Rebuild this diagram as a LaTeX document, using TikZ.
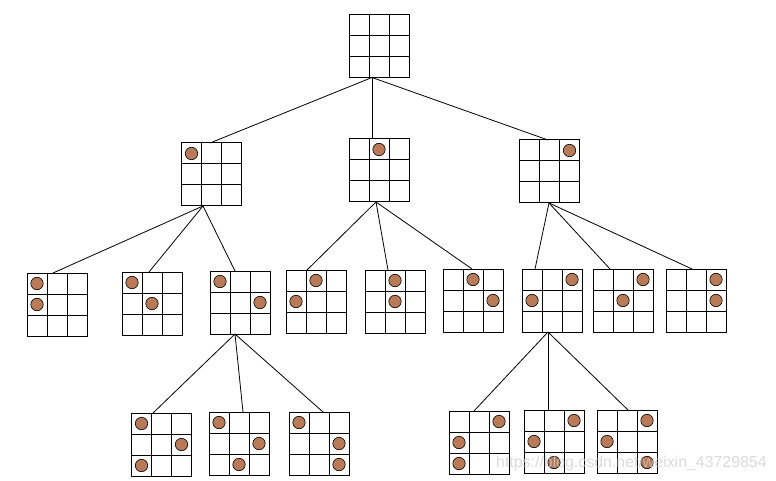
\documentclass[tikz,border=0pt]{standalone}
\usepackage{fontspec}
\newfontfamily\wmfont{Liberation Sans}
\usetikzlibrary{calc}
\definecolor{dotbrown}{RGB}{185,122,87}
\tikzset{
  board/.style={draw, line width=1pt, minimum width=60pt, minimum height=63pt, inner sep=0pt, outer sep=0pt},
  gridline/.style={line width=1pt},
  link/.style={line width=0.8pt},
  queen/.style={fill=dotbrown, draw=black, line width=0.6pt}
}
\newcommand\brdgrid[1]{%
  \foreach \i in {1,2} {
    \draw[gridline] ($(#1.north west)!\i/3!(#1.north east)$) -- ($(#1.south west)!\i/3!(#1.south east)$);
    \draw[gridline] ($(#1.north west)!\i/3!(#1.south west)$) -- ($(#1.north east)!\i/3!(#1.south east)$);
  }}
\newcommand\brd[4]{%
  \node[board] (#1) at (#2,#3) {};
  \brdgrid{#1}
  \foreach \r/\c in {#4} {
    \draw[queen] ([shift={(\c*20-10,\r*21-10.5)}]#1.north west) circle (6.2pt);
  }}
\begin{document}
\begin{tikzpicture}[x=1pt,y=-1pt]
\fill[white] (0,0) rectangle (776,481);
\useasboundingbox (0,0) rectangle (776,481);
% root
\node[board] (root) at (379.5,46) {};
\brdgrid{root}
% level 1
\brd{la}{211.5}{174.5}{1/1}
\brd{lb}{379}{170.5}{1/2}
\brd{lc}{549.5}{171.5}{1/3}
% level 2
\brd{a}{57}{304.5}{1/1,2/1}
\brd{b}{152}{303.5}{1/1,2/2}
\brd{c}{240}{302.5}{1/1,2/3}
\brd{d}{316}{301.5}{1/2,2/1}
\brd{e}{395}{301.5}{1/2,2/2}
\brd{f}{473}{300.5}{1/2,2/3}
\brd{g}{552}{300.5}{1/3,2/1}
\brd{h}{623}{300.5}{1/3,2/2}
\brd{i}{696}{300.5}{1/3,2/3}
% level 3
\brd{j}{161.5}{444.5}{1/1,2/3,3/1}
\brd{k}{239}{443.5}{1/1,2/3,3/2}
\brd{l}{319}{443.5}{1/1,2/3,3/3}
\brd{m}{479}{442.5}{1/3,2/1,3/1}
\brd{n}{554}{441.5}{1/3,2/1,3/2}
\brd{o}{627}{441.5}{1/3,2/1,3/3}
% connectors
\draw[link] ([xshift=-7.5pt]root.south) -- ([xshift=-1.5pt]la.north);
\draw[link] ([xshift=-7.5pt]root.south) -- ([xshift=-7pt]lb.north);
\draw[link] ([xshift=-7.5pt]root.south) -- ([xshift=-1.5pt]lc.north);
\draw[link] ([xshift=-8.5pt]la.south) -- ([xshift=-4pt]a.north);
\draw[link] ([xshift=-8.5pt]la.south) -- ([xshift=-3pt]b.north);
\draw[link] ([xshift=-8.5pt]la.south) -- ([xshift=-5pt]c.north);
\draw[link] ([xshift=-3pt]lb.south) -- ([xshift=-9pt]d.north);
\draw[link] ([xshift=-3pt]lb.south) -- ([xshift=-7pt]e.north);
\draw[link] ([xshift=-3pt]lb.south) -- ([xshift=-1pt]f.north);
\draw[link] ([xshift=-0.5pt]lc.south) -- ([xshift=-17pt]g.north);
\draw[link] ([xshift=-0.5pt]lc.south) -- ([xshift=-13pt]h.north);
\draw[link] ([xshift=-0.5pt]lc.south) -- ([xshift=-4pt]i.north);
\draw[link] ([xshift=-5pt]c.south) -- ([xshift=-8.5pt]j.north);
\draw[link] ([xshift=-5pt]c.south) -- ([xshift=4pt]k.north);
\draw[link] ([xshift=-5pt]c.south) -- ([xshift=4pt]l.north);
\draw[link] ([xshift=-4pt]g.south) -- ([xshift=-5pt]m.north);
\draw[link] ([xshift=-4pt]g.south) -- ([xshift=-6pt]n.north);
\draw[link] ([xshift=-4pt]g.south) -- ([xshift=1pt]o.north);
% watermark
\node[anchor=west, inner sep=0pt, text=gray!40, opacity=0.7, font=\wmfont\fontsize{15.9}{17}\selectfont] (wm) at (496,463) {https://blog.csdn.net/weixin\_43729854};
\end{tikzpicture}
\end{document}
